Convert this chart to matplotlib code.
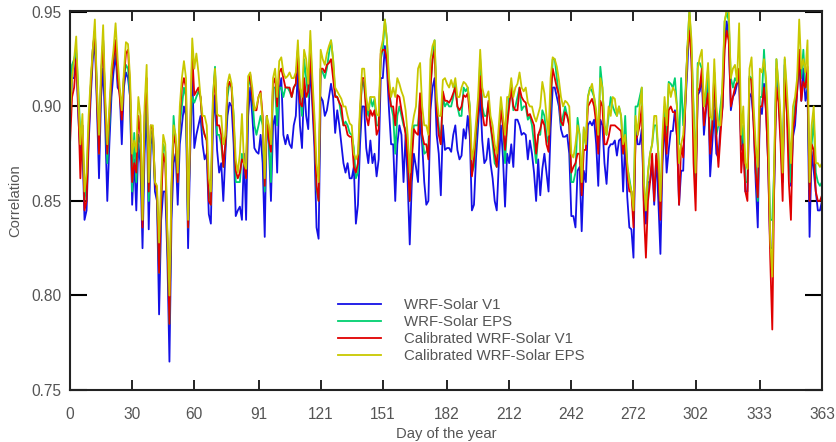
import numpy as np
import matplotlib
matplotlib.use("Agg")
import matplotlib.pyplot as plt

plt.rcParams['font.family'] = ['Liberation Sans', 'DejaVu Sans']

# Daily correlation for each forecast system, day 0 .. 363
wrf_v1 = [
    .89, .915, .915, .928, .895, .875, .88, .84, .845, .88, .905, .925, .935, .90, .862, .905, .92, .89, .85, .88,
    .905, .918, .928, .91, .908, .88, .91, .918, .915, .905, .848, .872, .845, .88, .87, .825, .875, .90, .835, .88,
    .885, .855, .85, .79, .84, .855, .855, .82, .765, .84, .87, .875, .848, .88, .89, .90, .895, .825, .875, .918,
    .878, .885, .89, .895, .88, .872, .875, .843, .838, .89, .906, .877, .865, .87, .85, .875, .895, .902, .90, .88,
    .842, .845, .847, .84, .875, .84, .895, .91, .895, .878, .876, .875, .885, .87, .831, .895, .88, .85, .89, .895,
    .865, .908, .915, .885, .88, .885, .88, .878, .89, .895, .92, .89, .878, .912, .895, .888, .923, .90, .878, .836,
    .83, .905, .903, .895, .898, .905, .912, .905, .886, .898, .89, .88, .87, .865, .87, .862, .862, .868, .838, .848,
    .88, .90, .90, .878, .87, .882, .87, .875, .863, .872, .915, .915, .932, .92, .898, .88, .88, .85, .88, .89,
    .885, .86, .885, .86, .827, .86, .875, .868, .86, .895, .88, .86, .848, .85, .898, .91, .915, .885, .875, .853,
    .89, .877, .878, .878, .876, .885, .89, .877, .872, .874, .888, .883, .895, .884, .845, .848, .873, .89, .907, .882,
    .87, .872, .883, .87, .862, .85, .845, .87, .89, .873, .847, .875, .87, .88, .868, .893, .893, .89, .885, .886,
    .885, .872, .882, .875, .865, .85, .872, .853, .867, .875, .865, .855, .888, .91, .91, .905, .90, .888, .884, .884,
    .885, .875, .842, .842, .836, .866, .868, .834, .866, .86, .89, .892, .89, .893, .88, .858, .893, .89, .87, .859,
    .878, .88, .88, .882, .874, .882, .883, .855, .882, .852, .836, .835, .82, .89, .88, .88, .888, .85, .838, .86,
    .86, .87, .848, .874, .85, .822, .87, .893, .865, .877, .887, .887, .898, .884, .848, .866, .866, .90, .92, .948,
    .925, .89, .86, .906, .908, .916, .885, .898, .912, .863, .88, .898, .875, .873, .89, .90, .935, .945, .935, .898,
    .905, .907, .912, .914, .877, .885, .855, .855, .907, .905, .892, .86, .836, .90, .896, .912, .898, .87, .825, .825,
    .86, .92, .907, .885, .86, .922, .898, .88, .858, .884, .89, .908, .925, .903, .92, .903, .91, .831, .876, .866,
    .855, .845, .845, .85,
]

wrf_eps = [
    .895, .922, .925, .93, .91, .885, .89, .85, .86, .89, .91, .93, .94, .91, .875, .915, .935, .90, .87, .89,
    .915, .925, .935, .915, .908, .895, .915, .922, .92, .905, .855, .886, .86, .885, .88, .84, .89, .91, .85, .885,
    .888, .86, .855, .812, .85, .88, .876, .83, .785, .855, .895, .88, .86, .89, .90, .91, .905, .836, .885, .905,
    .902, .905, .908, .905, .888, .885, .882, .855, .848, .905, .921, .885, .885, .88, .868, .88, .905, .913, .91, .895,
    .86, .86, .86, .875, .87, .862, .91, .915, .905, .89, .885, .89, .895, .89, .855, .895, .882, .86, .91, .91,
    .89, .91, .91, .905, .91, .91, .908, .905, .91, .912, .93, .905, .895, .925, .915, .905, .935, .91, .89, .856,
    .85, .92, .918, .915, .92, .928, .935, .925, .906, .905, .902, .895, .89, .892, .89, .886, .885, .878, .862, .865,
    .893, .915, .91, .90, .895, .905, .90, .904, .89, .89, .925, .93, .946, .935, .91, .90, .895, .875, .895, .90,
    .895, .89, .888, .875, .85, .875, .89, .89, .89, .905, .885, .875, .876, .88, .91, .925, .935, .90, .89, .88,
    .905, .90, .902, .90, .90, .905, .912, .90, .895, .895, .91, .908, .91, .90, .865, .868, .885, .898, .925, .90,
    .895, .895, .902, .89, .88, .87, .868, .885, .90, .89, .87, .89, .905, .91, .898, .90, .905, .91, .898, .90,
    .90, .893, .895, .89, .88, .87, .885, .885, .898, .895, .885, .88, .90, .925, .925, .915, .905, .89, .895, .90,
    .895, .89, .86, .86, .865, .894, .885, .855, .888, .88, .905, .91, .908, .905, .895, .88, .921, .91, .89, .885,
    .895, .905, .90, .897, .895, .90, .895, .875, .895, .868, .862, .855, .842, .90, .90, .905, .91, .86, .845, .865,
    .875, .88, .89, .89, .875, .845, .88, .90, .885, .913, .912, .91, .915, .90, .88, .915, .89, .905, .93, .951,
    .93, .90, .86, .923, .923, .92, .90, .905, .92, .88, .89, .91, .885, .89, .90, .91, .945, .95, .945, .915,
    .91, .915, .913, .92, .88, .89, .86, .86, .916, .915, .895, .87, .85, .905, .905, .93, .91, .88, .84, .84,
    .87, .925, .91, .89, .862, .925, .90, .88, .86, .89, .90, .912, .93, .915, .93, .91, .912, .856, .88, .893,
    .865, .86, .858, .86,
]

cal_v1 = [
    .88, .905, .91, .925, .90, .862, .89, .845, .85, .885, .91, .93, .94, .905, .875, .915, .935, .90, .875, .895,
    .915, .925, .935, .915, .905, .893, .915, .928, .93, .91, .86, .87, .865, .895, .885, .836, .895, .915, .855, .89,
    .888, .86, .855, .812, .85, .875, .87, .83, .785, .855, .885, .88, .86, .895, .91, .915, .91, .836, .885, .928,
    .906, .908, .91, .905, .89, .885, .882, .85, .848, .90, .918, .89, .89, .885, .868, .88, .91, .913, .91, .89,
    .866, .862, .865, .872, .87, .862, .912, .917, .905, .898, .898, .905, .908, .895, .858, .895, .882, .876, .912, .915,
    .90, .918, .92, .915, .91, .91, .91, .905, .91, .912, .93, .902, .90, .915, .905, .908, .928, .905, .885, .858,
    .85, .92, .92, .918, .922, .923, .925, .915, .905, .905, .902, .90, .89, .89, .885, .884, .884, .868, .865, .87,
    .896, .915, .915, .895, .89, .898, .895, .898, .885, .888, .928, .93, .93, .925, .907, .90, .90, .89, .906, .905,
    .898, .892, .885, .872, .85, .872, .888, .886, .885, .907, .885, .88, .88, .872, .91, .925, .93, .898, .885, .88,
    .908, .903, .903, .902, .904, .907, .91, .90, .898, .90, .906, .905, .907, .895, .863, .872, .888, .897, .916, .897,
    .89, .89, .903, .89, .883, .875, .868, .885, .898, .89, .877, .89, .90, .91, .90, .898, .898, .91, .905, .903,
    .902, .895, .896, .893, .89, .875, .885, .888, .893, .89, .88, .876, .905, .92, .915, .91, .906, .892, .89, .897,
    .895, .89, .865, .868, .87, .875, .875, .853, .877, .877, .90, .902, .904, .90, .891, .875, .903, .90, .88, .88,
    .884, .89, .89, .89, .889, .888, .887, .875, .884, .864, .855, .855, .836, .882, .885, .89, .90, .845, .82, .85,
    .86, .875, .85, .875, .865, .84, .875, .894, .875, .898, .90, .897, .897, .884, .848, .88, .873, .90, .93, .94,
    .925, .87, .845, .908, .91, .92, .89, .90, .907, .875, .89, .918, .885, .868, .885, .90, .93, .94, .935, .90,
    .905, .91, .913, .92, .865, .88, .855, .85, .915, .914, .89, .865, .852, .90, .90, .91, .897, .87, .82, .782,
    .863, .91, .902, .88, .85, .915, .898, .86, .84, .888, .895, .908, .93, .903, .913, .91, .921, .85, .88, .877,
    .855, .85, .85, .853,
]

cal_eps = [
    .895, .915, .925, .937, .905, .88, .896, .855, .865, .895, .915, .93, .946, .91, .885, .92, .943, .905, .88, .90,
    .92, .93, .944, .925, .91, .898, .918, .934, .933, .915, .875, .882, .876, .905, .895, .84, .90, .922, .86, .89,
    .89, .86, .858, .828, .86, .885, .88, .835, .80, .86, .89, .885, .865, .90, .915, .924, .915, .84, .89, .936,
    .92, .928, .918, .905, .895, .895, .89, .862, .855, .905, .92, .896, .895, .895, .88, .885, .912, .917, .912, .895,
    .872, .865, .875, .896, .87, .867, .916, .918, .91, .898, .90, .905, .907, .892, .862, .895, .89, .88, .915, .92,
    .905, .924, .926, .918, .915, .916, .918, .915, .915, .918, .935, .91, .905, .93, .925, .912, .94, .915, .895, .87,
    .86, .93, .925, .922, .928, .932, .935, .925, .91, .908, .906, .904, .90, .90, .895, .891, .89, .875, .872, .875,
    .90, .92, .92, .905, .898, .905, .905, .905, .896, .895, .93, .935, .946, .935, .915, .905, .91, .905, .915, .912,
    .908, .905, .898, .885, .865, .888, .895, .90, .92, .923, .90, .89, .89, .885, .925, .932, .935, .905, .895, .895,
    .914, .915, .912, .91, .914, .91, .915, .905, .905, .91, .913, .912, .91, .90, .872, .878, .892, .905, .93, .91,
    .905, .905, .908, .895, .89, .88, .875, .89, .905, .895, .885, .905, .905, .915, .905, .91, .912, .918, .91, .908,
    .91, .902, .90, .90, .895, .892, .896, .90, .913, .907, .895, .885, .915, .926, .925, .921, .914, .905, .90, .903,
    .902, .90, .875, .873, .88, .89, .885, .86, .889, .88, .905, .909, .912, .905, .898, .885, .915, .91, .89, .885,
    .90, .895, .905, .904, .895, .90, .895, .88, .885, .87, .86, .855, .845, .895, .885, .90, .91, .86, .845, .865,
    .875, .88, .895, .895, .875, .85, .885, .905, .89, .912, .905, .91, .908, .90, .87, .88, .885, .902, .93, .951,
    .935, .895, .865, .92, .926, .93, .90, .91, .923, .895, .893, .925, .90, .89, .89, .915, .945, .951, .95, .915,
    .92, .922, .913, .944, .885, .90, .87, .867, .92, .926, .90, .88, .868, .92, .918, .925, .915, .89, .83, .81,
    .876, .925, .912, .895, .865, .926, .91, .89, .87, .90, .905, .915, .946, .92, .925, .918, .935, .86, .89, .90,
    .87, .87, .868, .87,
]

series = [
    ("WRF-Solar V1", wrf_v1, "#1410e6"),
    ("WRF-Solar EPS", wrf_eps, "#00d070"),
    ("Calibrated WRF-Solar V1", cal_v1, "#e00000"),
    ("Calibrated WRF-Solar EPS", cal_eps, "#c8c800"),
]

x_ticks = [0, 30, 60, 91, 121, 151, 182, 212, 242, 272, 302, 333, 363]
y_ticks = [0.75, 0.80, 0.85, 0.90, 0.95]

fig = plt.figure(figsize=(8.37, 4.42), dpi=100)
ax = fig.add_axes([70 / 837, 1 - 390 / 442, 752 / 837, 379 / 442])

for label, values, color in series:
    days = np.arange(len(values))
    ax.plot(days, values, color=color, lw=1.3, label=label)

ax.set_xlim(0, 363)
ax.set_ylim(0.75, 0.9505)
ax.set_xticks(x_ticks)
ax.set_xticklabels([str(t) for t in x_ticks])
ax.set_yticks(y_ticks)
ax.set_yticklabels([f"{t:.2f}" for t in y_ticks])

text_color = "#555555"
ax.tick_params(axis="x", direction="in", length=7, width=1.2, top=True,
               labelsize=11.2, labelcolor=text_color, pad=12)
ax.tick_params(axis="y", direction="in", length=12, width=1.5, right=True,
               labelsize=11.2, labelcolor=text_color, pad=6)
for sp in ax.spines.values():
    sp.set_linewidth(1.5)
    sp.set_color("#222222")

ax.set_xlabel("Day of the year", fontsize=10.6, color=text_color)
ax.set_ylabel("Correlation", fontsize=10.6, color=text_color)
ax.xaxis.set_label_coords(0.5, -0.097)
ax.yaxis.set_label_coords(-0.063, 0.5)

leg = ax.legend(loc="lower left", bbox_to_anchor=(0.356, 0.07), frameon=False,
                fontsize=10.8, handlelength=2.9, handletextpad=1.5,
                labelspacing=0.2, borderpad=0, borderaxespad=0)
for t in leg.get_texts():
    t.set_color(text_color)

fig.savefig("out.png", dpi=100)
